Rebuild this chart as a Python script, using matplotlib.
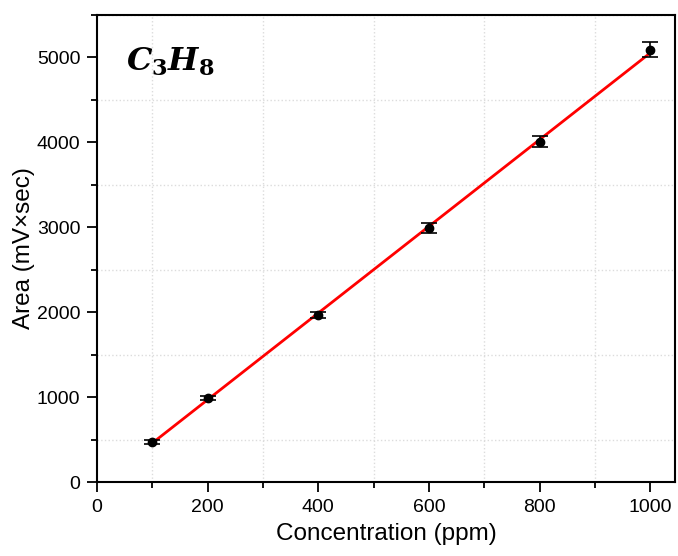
import numpy as np
import matplotlib.pyplot as plt
from matplotlib.ticker import MultipleLocator

plt.rcParams['font.family'] = ['Liberation Sans', 'DejaVu Sans']
plt.rcParams['mathtext.fontset'] = 'custom'
plt.rcParams['mathtext.it'] = 'DejaVu Serif:italic:bold'
plt.rcParams['mathtext.rm'] = 'DejaVu Serif:bold'
plt.rcParams['mathtext.bf'] = 'DejaVu Serif:bold'

conc = np.array([100, 200, 400, 600, 800, 1000])
area = np.array([470, 990, 1970, 2990, 4010, 5090])
err = np.array([20, 25, 35, 55, 70, 90])

# linear fit
slope, icpt = np.polyfit(conc, area, 1)
xfit = np.array([conc.min(), conc.max()])

fig = plt.figure(figsize=(6.78, 5.56), dpi=100)
ax = fig.add_axes([0.143, 0.133, 0.853, 0.840])

ax.plot(xfit, slope * xfit + icpt, color='red', lw=2, zorder=2)
ax.errorbar(conc, area, yerr=err, fmt='o', color='black', ms=6,
            capsize=6, elinewidth=1.2, capthick=1.2, zorder=3)

ax.set_xlim(0, 1045)
ax.set_ylim(0, 5500)
ax.xaxis.set_major_locator(MultipleLocator(200))
ax.xaxis.set_minor_locator(MultipleLocator(100))
ax.yaxis.set_major_locator(MultipleLocator(1000))
ax.yaxis.set_minor_locator(MultipleLocator(500))
# grid only at the minor positions (Origin style)
ax.grid(which='minor', color='#dcdcdc', linestyle=':', lw=1)
ax.set_axisbelow(True)

ax.tick_params(which='major', direction='out', length=7, width=1.3,
               labelsize=14, pad=5)
ax.tick_params(which='minor', direction='out', length=4.5, width=1.3)
for s in ax.spines.values():
    s.set_linewidth(1.5)

ax.set_xlabel('Concentration (ppm)', fontsize=17.5, labelpad=5)
ax.set_ylabel('Area (mV×sec)', fontsize=17.5, labelpad=1)

ax.text(0.05, 0.90, r'$C_3H_8$', transform=ax.transAxes, fontsize=23,
        va='center', ha='left')

fig.savefig('out.png', dpi=100)
